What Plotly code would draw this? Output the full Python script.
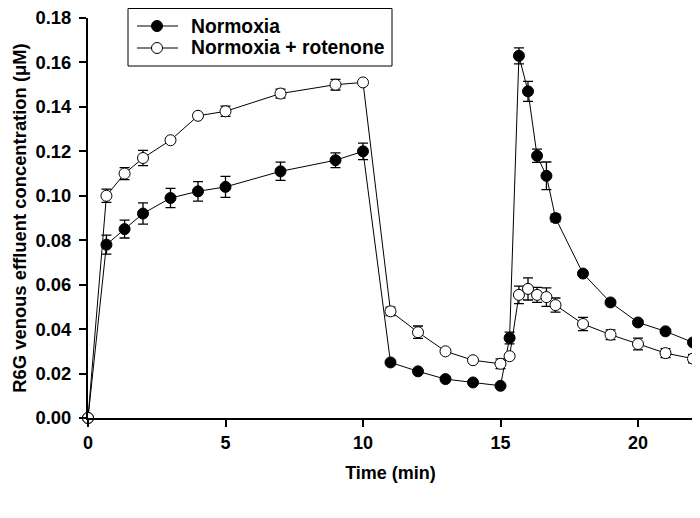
import plotly.graph_objects as go

time_min = [0, 0.67, 1.33, 2, 3, 4, 5, 7, 9, 10, 11, 12, 13, 14, 15,
            15.33, 15.67, 16, 16.33, 16.67, 17, 18, 19, 20, 21, 22]

normoxia = [0, 0.078, 0.085, 0.092, 0.099, 0.102, 0.104, 0.111, 0.116, 0.120,
            0.025, 0.021, 0.0175, 0.016, 0.0145,
            0.036, 0.163, 0.147, 0.118, 0.109, 0.090, 0.065, 0.052, 0.043, 0.039, 0.034]
normoxia_err = [0, 0.0043, 0.004, 0.0048, 0.0043, 0.0044, 0.0047, 0.0041, 0.0033, 0.0037,
                0.0008, 0.0005, 0.0005, 0.0005, 0.0005,
                0.0026, 0.0036, 0.0045, 0.003, 0.0062, 0.0017, 0.0012, 0.0008, 0.0008, 0.0008, 0.0008]

rotenone = [0, 0.100, 0.110, 0.117, 0.125, 0.136, 0.138, 0.146, 0.150, 0.151,
            0.048, 0.0386, 0.030, 0.026, 0.0244,
            0.0278, 0.0554, 0.0581, 0.0554, 0.0544, 0.0508, 0.0423, 0.0375, 0.0333, 0.0292, 0.0267]
rotenone_err = [0, 0.003, 0.0027, 0.0034, 0.001, 0.001, 0.0023, 0.002, 0.0024, 0.0008,
                0.0019, 0.0028, 0.0008, 0.0008, 0.0022,
                0.001, 0.0039, 0.005, 0.0034, 0.0042, 0.0032, 0.003, 0.0022, 0.0026, 0.002, 0.0019]

series_names = ["Normoxia", "Normoxia + rotenone"]
series_fill = ["black", "white"]

x_ticks = [0, 5, 10, 15, 20]
y_ticks = [0.00, 0.02, 0.04, 0.06, 0.08, 0.10, 0.12, 0.14, 0.16, 0.18]

FONT = "Liberation Sans, Arial, sans-serif"
W, H = 700, 518
L, T, R, B = 80, 10, 15, 108
PW, PH = W - L - R, H - T - B


def px(fx):
    return (fx - L) / PW


def py(fy):
    return (H - B - fy) / PH


fig = go.Figure()
for name, yv, ev, fill in [(series_names[0], normoxia, normoxia_err, series_fill[0]),
                           (series_names[1], rotenone, rotenone_err, series_fill[1])]:
    fig.add_trace(go.Scatter(
        x=time_min, y=yv, name=name, mode="lines+markers",
        line=dict(color="black", width=1),
        marker=dict(symbol="circle", size=11, color=fill, line=dict(color="black", width=1)),
        error_y=dict(type="data", array=ev, visible=True, color="black", thickness=1.3, width=5),
        cliponaxis=False, showlegend=False,
    ))

# Hand-drawn legend box (compact row spacing like the original)
shapes = [dict(type="rect", xref="paper", yref="paper",
               x0=px(120), x1=px(384), y0=py(58), y1=py(0.5),
               line=dict(color="black", width=1), fillcolor="white", layer="above")]
annotations = []
rows = [18, 40]
for i, (name, fill) in enumerate(zip(series_names, series_fill)):
    ry = py(rows[i])
    shapes.append(dict(type="line", xref="paper", yref="paper",
                       x0=px(129), x1=px(170), y0=ry, y1=ry,
                       line=dict(color="black", width=1), layer="above"))
    shapes.append(dict(type="circle", xref="paper", yref="paper",
                       xsizemode="pixel", ysizemode="pixel",
                       xanchor=px(149), yanchor=ry, x0=-5.5, x1=5.5, y0=-5.5, y1=5.5,
                       line=dict(color="black", width=1), fillcolor=fill, layer="above"))
    annotations.append(dict(xref="paper", yref="paper", x=px(181), y=ry,
                            xanchor="left", yanchor="middle", showarrow=False,
                            text=name,
                            font=dict(family=FONT, size=19.3, color="black", weight="bold")))

fig.update_layout(
    width=W, height=H,
    margin=dict(l=L, r=R, t=T, b=B),
    paper_bgcolor="white", plot_bgcolor="white",
    font=dict(family=FONT, size=18, color="black", weight="bold"),
    showlegend=False,
    shapes=shapes, annotations=annotations,
)
fig.update_xaxes(
    range=[0, 22], tickvals=x_ticks, ticktext=[str(v) for v in x_ticks],
    automargin=False, ticklabeloverflow="allow",
    showline=True, linecolor="black", linewidth=2, mirror=False,
    ticks="outside", ticklen=7, tickwidth=1.5, tickcolor="black",
    showgrid=False, zeroline=False,
    tickfont=dict(family=FONT, size=18, color="black", weight="bold"),
    title=dict(text="Time (min)", font=dict(family=FONT, size=18, color="black", weight="bold"), standoff=15),
)
fig.update_yaxes(
    range=[0, 0.18], tickvals=y_ticks, ticktext=[f"{v:.2f}" for v in y_ticks],
    automargin=False, ticklabeloverflow="allow",
    showline=True, linecolor="black", linewidth=2, mirror=False,
    ticks="outside", ticklen=7, tickwidth=1.5, tickcolor="black",
    ticklabelstandoff=4,
    showgrid=False, zeroline=False,
    tickfont=dict(family=FONT, size=18.4, color="black", weight="bold"),
    title=dict(text="R6G venous effluent concentration (μM)", font=dict(family=FONT, size=18.4, color="black", weight="bold"), standoff=4),
)

fig.write_html("out.html")
